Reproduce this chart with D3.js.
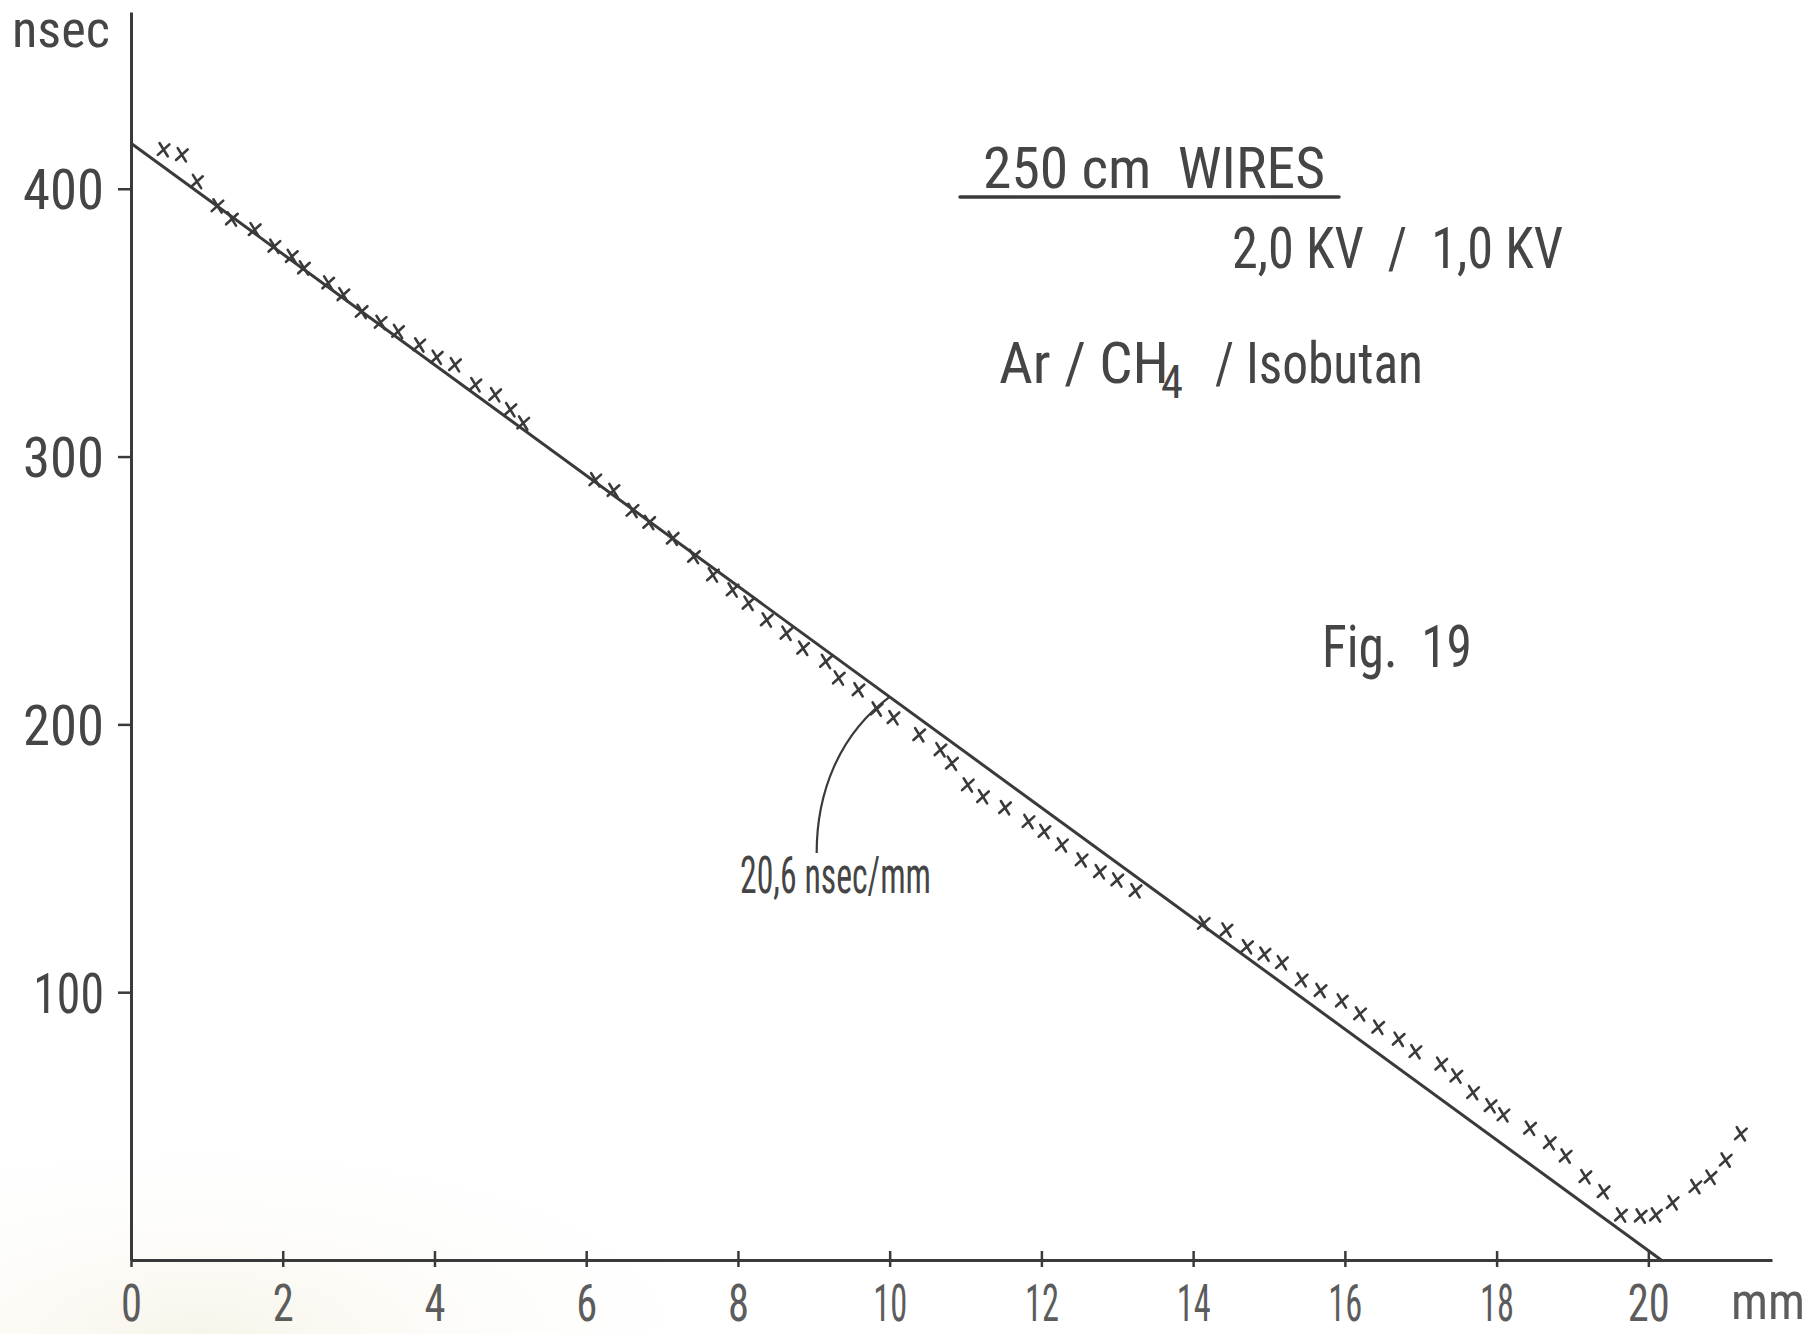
<!DOCTYPE html>
<html>
<head>
<meta charset="utf-8">
<script src="https://cdn.jsdelivr.net/npm/d3@7"></script>
<style>
  html, body { margin: 0; padding: 0; background: #ffffff; }
  svg { display: block; }
  text { font-family: "Liberation Sans Narrow", "Roboto Condensed", Roboto, "DejaVu Sans", sans-serif; white-space: pre; }
</style>
</head>
<body>
<svg id="chart" width="1818" height="1334"></svg>
<script>
// ---- data (mm, nsec) ----
const distanceMm = [0.43,0.67,0.87,1.14,1.33,1.63,1.89,2.12,2.28,2.60,2.80,3.04,3.29,3.52,3.80,4.03,4.27,4.54,4.80,5.00,5.17,
  6.12,6.36,6.61,6.83,7.14,7.42,7.67,7.93,8.14,8.38,8.64,8.86,9.16,9.33,9.59,9.83,
  10.05,10.39,10.67,10.82,11.03,11.23,11.52,11.83,12.04,12.27,12.53,12.77,13.00,13.24,
  14.14,14.44,14.71,14.94,15.17,15.43,15.68,15.96,16.20,16.44,16.71,16.93,17.27,17.47,17.69,17.92,18.09,18.44,18.70,18.91,19.17,19.41,19.64,19.90,20.10,20.32,20.62,20.82,21.02,21.22];
const driftTimeNs = [414.6,412.7,402.7,393.6,388.7,384.7,378.5,374.7,370.4,364.8,360.4,354.2,350.1,346.7,341.7,337.1,334.3,326.8,323.1,317.5,312.5,
  291.3,287.3,279.9,275.4,269.5,262.7,255.8,250.2,245.2,239.0,234.0,228.4,223.5,217.3,212.9,205.7,
  202.5,196.1,190.5,185.5,177.4,173.0,168.9,163.7,160.0,155.0,149.4,145.0,141.9,137.9,
  125.7,123.2,117.0,114.2,111.0,104.6,100.6,96.7,91.9,86.9,82.4,77.8,73.1,68.7,62.5,57.6,54.2,49.2,43.8,38.8,31.1,25.5,16.8,16.4,16.8,21.4,27.4,30.9,37.3,47.1];
// fitted straight line (20,6 nsec/mm)
const fitMm = [0, 20.17];
const fitNs = [417, 0];
const slopeLabel = "20,6 nsec/mm";
const slopeAtMm = 10;
// axes
const xTickValues = [0,2,4,6,8,10,12,14,16,18,20];
const yTickValues = [100,200,300,400];
const xDomain = [0, 21.63];
const yDomain = [0, 466];
const xUnit = "mm";
const yUnit = "nsec";
const titleLines = ["250 cm  WIRES", "2,0 KV  /  1,0 KV"];
const gasParts = ["Ar / CH", "4", "/ Isobutan"];
const figLabel = "Fig.  19";

// ---- drawing ----
const svg = d3.select("#chart");
const ink = "#3a3a3a";
const textInk = "#454545";

// faint paper tint (scan)
const defs = svg.append("defs");
const grad = defs.append("radialGradient").attr("id","tint").attr("cx","0.2").attr("cy","1").attr("r","0.55");
grad.append("stop").attr("offset","0").attr("stop-color","#f4f0e0").attr("stop-opacity",0.7);
grad.append("stop").attr("offset","1").attr("stop-color","#ffffff").attr("stop-opacity",0);
svg.append("rect").attr("x",0).attr("y",950).attr("width",1000).attr("height",384).attr("fill","url(#tint)");

const x = d3.scaleLinear().domain(xDomain).range([131, 1772]);
const y = d3.scaleLinear().domain(yDomain).range([1260, 12]);

function charW(c, w) { return c === "1" ? w * 0.62 : w; }
function strLen(s, w) { return Array.from(s).reduce((a,c)=>a+charW(c,w),0); }

// x axis
const gx = svg.append("g").attr("transform", `translate(0,${y(0)})`)
  .call(d3.axisBottom(x).tickValues(xTickValues).tickSize(8).tickSizeOuter(0).tickFormat(d3.format("d")));
gx.select(".domain").attr("stroke", ink).attr("stroke-width", 3);
gx.selectAll(".tick line").attr("stroke", ink).attr("stroke-width", 2.5).attr("y1", -9).attr("y2", 7);
gx.selectAll(".tick text")
  .attr("y", 61).attr("dy", 0)
  .attr("fill", "#5c5c5c")
  .style("font-size", "52px")
  .attr("textLength", d => strLen(String(d), 21))
  .attr("lengthAdjust", "spacingAndGlyphs");

// y axis
const gy = svg.append("g").attr("transform", `translate(${x(0)},0)`)
  .call(d3.axisLeft(y).tickValues(yTickValues).tickSize(13).tickSizeOuter(0));
gy.select(".domain").attr("stroke", ink).attr("stroke-width", 3);
gy.selectAll(".tick line").attr("stroke", ink).attr("stroke-width", 2.5);
gy.selectAll(".tick text")
  .attr("x", -27).attr("dy", "0.36em")
  .attr("fill", textInk)
  .style("font-size", "56px")
  .attr("textLength", d => strLen(String(d), 27))
  .attr("lengthAdjust", "spacingAndGlyphs");

// unit labels
svg.append("text").attr("x", 12).attr("y", 47).text(yUnit)
  .attr("fill", textInk).style("font-size", "52px")
  .attr("textLength", 98).attr("lengthAdjust", "spacingAndGlyphs");
svg.append("text").attr("x", 1731).attr("y", 1319).text(xUnit)
  .attr("fill", "#5c5c5c").style("font-size", "52px")
  .attr("textLength", 74).attr("lengthAdjust", "spacingAndGlyphs");

// fit line
const fitData = fitMm.map((m,i)=>[m, fitNs[i]]);
svg.append("path").datum(fitData)
  .attr("d", d3.line().x(d=>x(d[0])).y(d=>y(d[1])))
  .attr("fill","none").attr("stroke", ink).attr("stroke-width", 3);

// data crosses
const pts = distanceMm.map((m,i)=>[m, driftTimeNs[i]]);
svg.append("g").selectAll("path").data(pts).join("path")
  .attr("transform", d=>`translate(${x(d[0])},${y(d[1])}) rotate(8)`)
  .attr("d", "M-5,-6 L5,6 M5,-6 L-5,6")
  .attr("fill","none").attr("stroke", ink).attr("stroke-width", 2.6).attr("stroke-linecap","round");

// leader to the line with slope label
const fitAt = m => fitNs[0] + (fitNs[1]-fitNs[0]) * (m - fitMm[0]) / (fitMm[1]-fitMm[0]);
const ex = x(slopeAtMm), ey = y(fitAt(slopeAtMm));
const sx = ex - 73, sy = ey + 156;
svg.append("path")
  .attr("d", `M${sx},${sy} C${sx},${sy-60} ${sx+22},${sy-118} ${ex},${ey}`)
  .attr("fill","none").attr("stroke", ink).attr("stroke-width", 2.2);
svg.append("text").attr("x", 740).attr("y", 893).text(slopeLabel)
  .attr("fill", textInk).style("font-size", "52px")
  .attr("textLength", 191).attr("lengthAdjust", "spacingAndGlyphs");

// title block
svg.append("text").attr("x", 983).attr("y", 188).text(titleLines[0])
  .attr("fill", textInk).style("font-size", "57px")
  .attr("textLength", 342).attr("lengthAdjust", "spacingAndGlyphs");
svg.append("line").attr("x1", 960).attr("x2", 1339).attr("y1", 197).attr("y2", 197)
  .attr("stroke", ink).attr("stroke-width", 3.5).attr("stroke-linecap","round");
svg.append("text").attr("x", 1232).attr("y", 268).text(titleLines[1])
  .attr("fill", textInk).style("font-size", "57px")
  .attr("textLength", 331).attr("lengthAdjust", "spacingAndGlyphs");

svg.append("text").attr("x", 999).attr("y", 383).text(gasParts[0])
  .attr("fill", textInk).style("font-size", "57px")
  .attr("textLength", 170).attr("lengthAdjust", "spacingAndGlyphs");
svg.append("text").attr("x", 1161).attr("y", 398).text(gasParts[1])
  .attr("fill", textInk).style("font-size", "46px")
  .attr("textLength", 22).attr("lengthAdjust", "spacingAndGlyphs");
svg.append("text").attr("x", 1215).attr("y", 383).text(gasParts[2])
  .attr("fill", textInk).style("font-size", "57px")
  .attr("textLength", 208).attr("lengthAdjust", "spacingAndGlyphs");

svg.append("text").attr("x", 1322).attr("y", 667).text(figLabel)
  .attr("fill", textInk).style("font-size", "60px")
  .attr("textLength", 150).attr("lengthAdjust", "spacingAndGlyphs");
</script>
</body>
</html>
